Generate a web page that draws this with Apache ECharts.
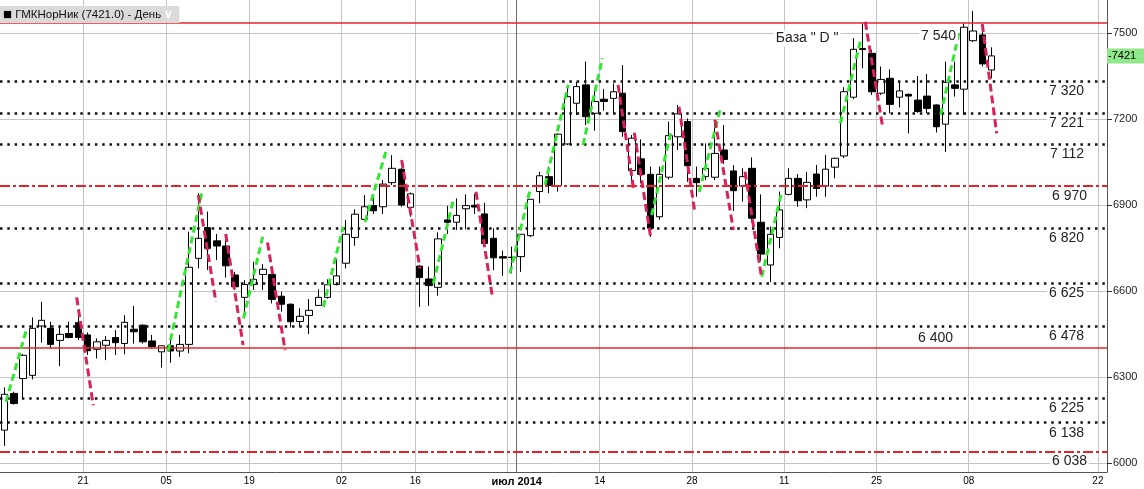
<!DOCTYPE html>
<html><head><meta charset="utf-8">
<script src="https://cdn.jsdelivr.net/npm/echarts@6/dist/echarts.min.js"></script>
<style>html,body{margin:0;padding:0;background:#fff}#c{width:1144px;height:489px}</style>
</head><body><div id="c"></div>
<script>
const dates = [
'2014-04-08','2014-04-09','2014-04-10','2014-04-11','2014-04-14','2014-04-15','2014-04-16','2014-04-17','2014-04-18',
'2014-04-21','2014-04-22','2014-04-23','2014-04-24','2014-04-25','2014-04-28','2014-04-29','2014-04-30','2014-05-02',
'2014-05-05','2014-05-06','2014-05-07','2014-05-08','2014-05-12','2014-05-13','2014-05-14','2014-05-15','2014-05-16',
'2014-05-19','2014-05-20','2014-05-21','2014-05-22','2014-05-23','2014-05-26','2014-05-27','2014-05-28','2014-05-29','2014-05-30',
'2014-06-02','2014-06-03','2014-06-04','2014-06-05','2014-06-06','2014-06-09','2014-06-10','2014-06-11',
'2014-06-16','2014-06-17','2014-06-18','2014-06-19','2014-06-20','2014-06-23','2014-06-24','2014-06-25','2014-06-26','2014-06-27','2014-06-30',
'2014-07-01','2014-07-02','2014-07-03','2014-07-04','2014-07-07','2014-07-08','2014-07-09','2014-07-10','2014-07-11',
'2014-07-14','2014-07-15','2014-07-16','2014-07-17','2014-07-18','2014-07-21','2014-07-22','2014-07-23','2014-07-24','2014-07-25',
'2014-07-28','2014-07-29','2014-07-30','2014-07-31','2014-08-01','2014-08-04','2014-08-05','2014-08-06','2014-08-07','2014-08-08',
'2014-08-11','2014-08-12','2014-08-13','2014-08-14','2014-08-15','2014-08-18','2014-08-19','2014-08-20','2014-08-21','2014-08-22',
'2014-08-25','2014-08-26','2014-08-27','2014-08-28','2014-08-29','2014-09-01','2014-09-02','2014-09-03','2014-09-04','2014-09-05',
'2014-09-08','2014-09-09','2014-09-10',
'2014-09-11','2014-09-12','2014-09-13','2014-09-14','2014-09-15','2014-09-16','2014-09-17','2014-09-18','2014-09-19','2014-09-20','2014-09-21','2014-09-22'
];

const openP  = [6116,6244,6296,6307,6479,6471,6429,6453,6491,6448,6398,6412,6439,6418,6468,6482,6427,6389,6410,6392,
6415,6715,6822,6776,6758,6657,6579,6624,6659,6659,6583,6555,6495,6516,6551,6579,6624,6698,6788,6851,
6899,6895,6979,7026,6893,6688,6643,6614,6849,6841,6888,6900,6870,6785,6721,6719,6721,6794,6948,7000,
6969,7114,7256,7320,7221,7270,7273,7291,7021,7062,7008,6860,6998,7139,7192,6994,7000,6998,7093,7020,
6967,7029,6841,6692,6788,6938,6994,6919,7009,6967,7033,7072,7277,7447,7430,7291,7343,7277,7287,7267,
7281,7250,7183,7320,7305,7474,7494,7372];
const closeP = [6241,6209,6377,6471,6499,6415,6450,6439,6439,6393,6424,6429,6421,6492,6459,6424,6407,6410,6392,6415,
6684,6785,6750,6758,6689,6616,6624,6642,6677,6572,6555,6494,6513,6534,6579,6623,6654,6799,6869,6895,
6881,6974,7029,6901,6940,6648,6620,6783,6841,6865,6899,6894,6767,6717,6716,6718,6799,6921,7003,6969,
7148,7279,7314,7209,7262,7262,7296,7157,7134,7008,6820,7008,7143,7219,7038,6979,7029,7081,7060,6951,
7000,6855,6730,6799,6884,6994,6916,6980,6959,7026,7064,7296,7444,7443,7296,7339,7252,7299,7281,7227,
7238,7174,7329,7308,7521,7508,7393,7421];
const lowP   = [6061,6205,6229,6293,6421,6401,6339,6436,6430,6378,6366,6360,6378,6381,6418,6418,6401,6334,6351,6372,
6384,6680,6674,6709,6648,6605,6506,6605,6605,6558,6529,6474,6477,6451,6549,6575,6620,6680,6759,6851,
6870,6870,6971,6895,6860,6546,6549,6585,6800,6814,6816,6870,6760,6674,6654,6663,6668,6790,6907,6942,
6948,7110,7215,7180,7160,7230,7221,7139,6977,6977,6790,6849,6990,7093,6982,6930,6988,6988,7044,6880,
6913,6840,6707,6632,6750,6935,6895,6890,6930,6930,6994,7065,7270,7378,7285,7285,7221,7241,7151,7223,
7221,7154,7086,7279,7215,7470,7384,7343];
const highP  = [6265,6250,6381,6509,6563,6494,6477,6494,6517,6457,6436,6444,6465,6517,6549,6485,6448,6412,6436,6448,
6808,6942,6878,6800,6800,6668,6639,6703,6695,6662,6599,6558,6541,6573,6607,6642,6712,6849,6886,6936,
6930,6988,7075,7030,6945,6692,6686,6806,6898,6924,6938,6940,6909,6820,6742,6756,6800,6921,7017,7035,
7150,7320,7331,7401,7302,7305,7325,7389,7145,7130,7035,7035,7192,7250,7203,7035,7116,7198,7180,7040,
7029,7067,6938,6826,6948,7029,7009,7017,7041,7076,7066,7312,7483,7535,7442,7384,7374,7331,7290,7351,
7358,7252,7401,7401,7535,7578,7533,7451];

const lastPrice = 7421;

const yTicks = [6000, 6300, 6600, 6900, 7200, 7500];

const xTickDates  = ['2014-04-21','2014-05-05','2014-05-19','2014-06-02','2014-06-16','2014-07-01','2014-07-14','2014-07-28','2014-08-11','2014-08-25','2014-09-08','2014-09-22'];
const xTickLabels = ['21','05','19','02','16','июл 2014','14','28','11','25','08','22'];
const xGridDates  = ['2014-04-21','2014-05-05','2014-05-19','2014-06-02','2014-06-16','2014-06-30','2014-07-14','2014-07-28','2014-08-11','2014-08-25','2014-09-08','2014-09-22'];
const monthStart  = '2014-07-01';

const dottedLevels = [7333, 7221, 7114, 6820, 6628, 6479, 6227, 6142];
const dottedLabels = ['7 320','7 221','7 112','6 820','6 625','6 478','6 225','6 138'];
const dashDotLevels = [6967, 6042];
const dashDotLabels = ['6 970','6 038'];
const solidLevels = [7538, 6405];
const solidLabels = ['7 540','6 400'];
const baseLabel = 'База " D "';
const baseDate = '2014-08-13';
const baseValue = 7482;

// trend segments: [x index start, value start, x index end, value end]
const upTrends = [
[0.15,6215,2.4,6471],[17.74,6392,21.36,6942],[25.9,6506,27.97,6790],[34.55,6546,36.7,6825],
[39.07,6842,41.45,7100],[46.47,6628,48.64,6918],[54.78,6663,56.95,6953],[58.58,6971,61.1,7320],
[62.7,7110,64.8,7413],[70.14,6866,72.2,7151],[75.3,6947,77.55,7232],[82.07,6651,84.24,6947],
[90.6,7186,92.8,7477],[101.47,7215,103.5,7509]
];
const downTrends = [
[7.81,6579,9.61,6203],[21.0,6936,22.9,6564],[23.97,6800,25.85,6413],[28.5,6770,30.4,6395],
[43.04,7058,45.03,6680],[51.1,6947,52.9,6576],[66.5,7320,68.2,6953],[68.26,7153,70.07,6781],
[73.1,7244,74.84,6872],[77.0,7198,79.0,6814],[80.26,7017,82.07,6645],[93.3,7540,95.2,7169],
[105.98,7532,107.54,7151]
];

const FONT = 'Liberation Sans';
const candleData = openP.map((o, i) => [o, closeP[i], lowP[i], highP[i]]);
const tickIdx = xTickDates.map(d => dates.indexOf(d));
const gridIdx = xGridDates.map(d => dates.indexOf(d));
const CLEAR = 'rgba(0,0,0,0)';

const lvlLabel = {show: true, color: '#222', fontSize: 14, fontFamily: FONT, backgroundColor: '#fff', padding: [1, 2]};
const levelLines = [];
dottedLevels.forEach((v, k) => levelLines.push({
  yAxis: v, lineStyle: {color: '#111', width: 2.5, type: [2.5, 4.8]},
  label: Object.assign({}, lvlLabel, {formatter: dottedLabels[k], position: 'insideEndBottom', distance: [21, 2]})
}));
dashDotLevels.forEach((v, k) => levelLines.push({
  yAxis: v, lineStyle: {color: '#e8202a', width: 2, type: [10, 3, 3, 3]},
  label: Object.assign({}, lvlLabel, {formatter: dashDotLabels[k], position: 'insideEndBottom', distance: [18, 2]})
}));
levelLines.push({
  yAxis: solidLevels[0], lineStyle: {color: '#e8262c', width: 1.6, type: 'solid'},
  label: Object.assign({}, lvlLabel, {formatter: solidLabels[0], position: 'insideEndBottom', distance: [149, 6]})
});
levelLines.push({
  yAxis: solidLevels[1], lineStyle: {color: '#e8262c', width: 1.6, type: 'solid'},
  label: Object.assign({}, lvlLabel, {formatter: solidLabels[1], position: 'insideEndTop', distance: [152, 1]})
});
levelLines.push({
  yAxis: lastPrice, lineStyle: {color: CLEAR, width: 1},
  label: {show: true, position: 'end', formatter: '-' + lastPrice, backgroundColor: '#8fe88a', color: '#000',
          fontSize: 11, fontFamily: FONT, padding: [2, 8, 2, 1], distance: 0}
});

const segs = arr => arr.map(s => ({coords: [[s[0], s[1]], [s[2], s[3]]]}));

const chart = echarts.init(document.getElementById('c'), null, {renderer: 'canvas'});
chart.setOption({
  animation: false,
  backgroundColor: '#fff',
  title: {
    text: '{sq|■} ГМКНорНик (7421.0) - День {ch|∨}',
    left: 0, top: 6, padding: [1, 6, 1, 3],
    backgroundColor: '#dadada',
    textStyle: {fontSize: 11.5, fontWeight: 'normal', color: '#111', fontFamily: FONT,
      rich: {sq: {fontSize: 15, color: '#000', fontFamily: FONT}, ch: {fontSize: 12, color: '#fff', fontWeight: 'bold', fontFamily: FONT}}}
  },
  grid: {left: 0, right: 37, top: 0, bottom: 17, containLabel: false, outerBoundsMode: 'none'},
  xAxis: [{
    type: 'category', data: dates, boundaryGap: true,
    axisLine: {show: true, onZero: false, lineStyle: {color: '#555', width: 1}},
    axisTick: {show: false},
    axisLabel: {
      interval: (i) => tickIdx.indexOf(i) >= 0,
      formatter: (val, i) => {
        const k = xTickDates.indexOf(val);
        if (k < 0) return '';
        return val === monthStart ? '{b|' + xTickLabels[k] + '}' : xTickLabels[k];
      },
      color: '#000', fontSize: 10, fontFamily: FONT, margin: 4, padding: [0, 9, 0, 0],
      rich: {b: {fontWeight: 'bold', fontSize: 11, fontFamily: FONT, color: '#000'}}
    },
    splitLine: {show: true, interval: (i) => gridIdx.indexOf(i) >= 0, lineStyle: {color: '#c4c4c4', width: 1}}
  }, {
    type: 'value', min: -0.5, max: dates.length - 0.5, show: false
  }],
  yAxis: {
    type: 'value', position: 'right', min: 5970, max: 7616, scale: true,
    axisLine: {show: true, onZero: false, lineStyle: {color: '#555', width: 1}},
    axisTick: {show: true, length: 5, customValues: yTicks, lineStyle: {color: '#333'}},
    axisLabel: {customValues: yTicks, formatter: v => String(v), color: '#222', fontSize: 11, fontFamily: FONT, margin: 6},
    splitLine: {show: true, lineStyle: {color: '#c4c4c4', width: 1}}
  },
  series: [
    {
      type: 'line', xAxisIndex: 1, data: [], silent: true, z: 1,
      markLine: {symbol: ['none', 'none'], silent: true, label: {show: false},
        lineStyle: {color: '#707070', width: 1, type: 'solid'},
        data: [{xAxis: dates.indexOf(monthStart) - 0.5}]}
    },
    {
      type: 'candlestick', xAxisIndex: 0, data: candleData, barWidth: 7, z: 3, silent: true,
      itemStyle: {color: '#fff', color0: '#000', borderColor: '#000', borderColor0: '#000', borderWidth: 1},
      markLine: {symbol: ['none', 'none'], silent: true, precision: 0, data: levelLines},
      markPoint: {
        silent: true, symbol: 'circle', symbolSize: 1, itemStyle: {color: CLEAR},
        label: Object.assign({}, lvlLabel, {position: 'inside', formatter: baseLabel}),
        data: [{coord: [baseDate, baseValue]}]
      }
    },
    {
      type: 'lines', coordinateSystem: 'cartesian2d', xAxisIndex: 1, yAxisIndex: 0, z: 5, silent: true,
      data: segs(upTrends), lineStyle: {color: '#33e633', width: 3, type: [7, 4], opacity: 1}
    },
    {
      type: 'lines', coordinateSystem: 'cartesian2d', xAxisIndex: 1, yAxisIndex: 0, z: 5, silent: true,
      data: segs(downTrends), lineStyle: {color: '#d8225a', width: 3, type: [8, 4], opacity: 1}
    }
  ]
});
</script>
</body></html>
